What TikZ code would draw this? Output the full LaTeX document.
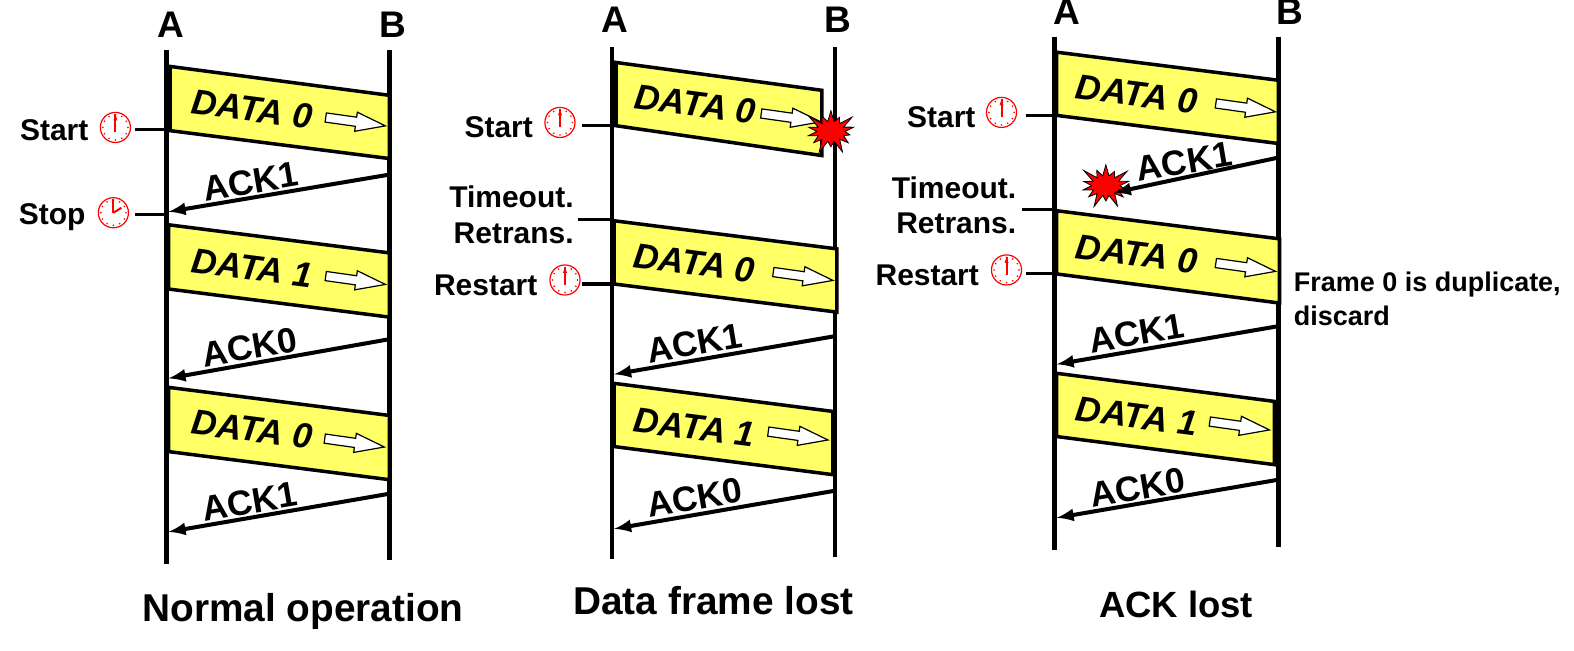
\documentclass[tikz,border=0pt]{standalone}
\usepackage{fontspec}
\setmainfont{Liberation Sans}
\usepackage{xcolor}
\usetikzlibrary{arrows,calc,positioning,shapes.arrows,shapes.symbols}
\newcommand{\myunit}{0.02cm}
\definecolor{framefill}{HTML}{FFFF66}
\tikzset{
    lifesty/.style={line width=4.5*\myunit},
    ticksty/.style={line width=3*\myunit},
    acksty/.style={line width=4*\myunit,->},
    framesty/.style={draw,fill=framefill,line width=3.5*\myunit},
    edgesty/.style={line width=5*\myunit},
    endsty/.style={font=\fontsize{21}{24}\bfseries\selectfont},
    sidesty/.style={font=\fontsize{17}{20}\bfseries\selectfont},
    datasty/.style={font=\fontsize{20}{24}\bfseries\itshape\selectfont,rotate=-7.3},
    acklsty/.style={font=\fontsize{20}{24}\bfseries\selectfont,rotate=9.6},
    titlesty/.style={font=\fontsize{22}{26}\bfseries\selectfont},
    notesty/.style={font=\fontsize{15.3}{18}\bfseries\selectfont,anchor=west,inner sep=0pt},
    hollowsty/.style={draw,fill=white,single arrow,anchor=tail,rotate=-8,inner xsep=0pt,inner ysep=0.08cm,
        line width=1.2*\myunit,minimum height=60*\myunit,
        single arrow head extend=0.1cm,single arrow tip angle=36,single arrow head indent=0pt},
    burststy/.style={draw=black,fill=red,starburst,starburst points=14,inner sep=0pt,
        starburst point height=0.3cm,minimum width=1.16cm,minimum height=1cm,
        line width=0.016cm},
    clockstart/.pic={
        \draw [red,line width=1.2*\myunit,fill=white] (0,0) circle (15);
        \foreach \tickang in {0,30,...,330}
            \fill [red] (\tickang:12.5) circle (0.9);
        \draw [red,line width=2*\myunit] (0,5) -- (0,-13);
        \fill [red] (-2,-7) -- (2,-7) -- (0,-13) -- cycle;
    },
    clockstop/.pic={
        \draw [red,line width=1.2*\myunit,fill=white] (0,0) circle (15);
        \foreach \tickang in {0,30,...,330}
            \fill [red] (\tickang:12.5) circle (0.9);
        \draw [red,line width=2*\myunit] (0,0) -- (0,-14);
        \draw [red,line width=2*\myunit] (0,0) -- (8,-5);
    },
}

\begin{document}
\begin{tikzpicture}[>=latex,x=\myunit,y=-\myunit]
\useasboundingbox (0,0) rectangle (1568.5,648.7);

% normal operation
\coordinate (Ap1t) at (166,50);
\coordinate (Ap1b) at (166,562);
\coordinate (Bp1t) at (388,50);
\coordinate (Bp1b) at (388,558);
\node (Ap1l) [endsty] at (170,25) {A};
\node (Bp1l) [endsty] at (391,25) {B};
\draw [lifesty] (Ap1t) -- (Ap1b);
\draw [lifesty] (Bp1t) -- (Bp1b);

\draw [framesty] (168,66) -- (388,95) -- (388,158) -- (168,130) -- cycle;
\draw [framesty] (168,224) -- (388,252) -- (388,316) -- (168,288) -- cycle;
\draw [framesty] (168,386) -- (388,414) -- (388,478) -- (168,450) -- cycle;
\draw [edgesty] (169,66) -- (169,130);
\node (Dp1a) [datasty] at (251.5,109) {DATA 0};
\node (Dp1b) [datasty] at (251.5,267) {DATA 1};
\node (Dp1c) [datasty] at (251.5,428) {DATA 0};
\node (Hp1a) [hollowsty] at (324,117) {};
\node (Hp1b) [hollowsty] at (324,275) {};
\node (Hp1c) [hollowsty] at (323,437) {};

\coordinate (Kp1as) at (388,174);
\coordinate (Kp1ae) at (168,211);
\coordinate (Kp1bs) at (388,338);
\coordinate (Kp1be) at (168,377);
\coordinate (Kp1cs) at (388,492);
\coordinate (Kp1ce) at (168,530);
\draw [acksty] (Kp1as) -- (Kp1ae);
\draw [acksty] (Kp1bs) -- (Kp1be);
\draw [acksty] (Kp1cs) -- (Kp1ce);
\node (Lp1a) [acklsty] at (250,181) {ACK1};
\node (Lp1b) [acklsty] at (249,346) {ACK0};
\node (Lp1c) [acklsty] at (249,500) {ACK1};

\node (Sp1a) [sidesty] at (54,130) {Start};
\node (Sp1b) [sidesty] at (52,216) {Stop};
\pic at (115,127) {clockstart};
\pic at (113,212) {clockstop};
\coordinate (Tp1a) at (135,129);
\coordinate (Tp1b) at (135,214);
\draw [ticksty] (Tp1a) -- (Tp1a -| Ap1t);
\draw [ticksty] (Tp1b) -- (Tp1b -| Ap1t);
\node (Np1) [titlesty] at (302,609) {Normal operation};

% data frame lost
\coordinate (Ap2t) at (610,47);
\coordinate (Ap2b) at (610,557);
\coordinate (Bp2t) at (832,47);
\coordinate (Bp2b) at (832,555);
\node (Ap2l) [endsty] at (613,20) {A};
\node (Bp2l) [endsty] at (835,20) {B};
\draw [lifesty] (Ap2t) -- (Ap2b);
\draw [lifesty] (Bp2t) -- (Bp2b);

\draw [framesty] (612,62) -- (819,90) -- (819,155) -- (612,125) -- cycle;
\draw [framesty] (612,220) -- (834,248) -- (834,311) -- (612,283) -- cycle;
\draw [framesty] (612,382) -- (830,410) -- (830,473) -- (612,445) -- cycle;
\draw [edgesty] (613,62) -- (613,125);
\node (Dp2a) [datasty] at (693,104) {DATA 0};
\node (Dp2b) [datasty] at (692,262) {DATA 0};
\node (Dp2c) [datasty] at (692,426) {DATA 1};
\node (Hp2a) [hollowsty] at (758,113) {};
\node (Hp2b) [hollowsty] at (770,271) {};
\node (Hp2c) [hollowsty] at (765,430) {};
\node (Xp2) [burststy] at (828,131) {};

\coordinate (Kp2as) at (832,335);
\coordinate (Kp2ae) at (612,373);
\coordinate (Kp2bs) at (832,489);
\coordinate (Kp2be) at (612,527);
\draw [acksty] (Kp2as) -- (Kp2ae);
\draw [acksty] (Kp2bs) -- (Kp2be);
\node (Lp2a) [acklsty] at (692,342) {ACK1};
\node (Lp2b) [acklsty] at (692,496) {ACK0};

\node (Sp2a) [sidesty] at (497,127) {Start};
\node (Sp2b) [sidesty,anchor=east,inner sep=0pt] at (572,196) {Timeout.};
\node (Sp2c) [sidesty,anchor=east,inner sep=0pt] at (572,233) {Retrans.};
\node (Sp2d) [sidesty] at (484,284) {Restart};
\pic at (558,122) {clockstart};
\pic at (563,279) {clockstart};
\coordinate (Tp2a) at (580,125);
\coordinate (Tp2b) at (576,219);
\coordinate (Tp2c) at (580,283);
\draw [ticksty] (Tp2a) -- (Tp2a -| Ap2t);
\draw [ticksty] (Tp2b) -- (Tp2b -| Ap2t);
\draw [ticksty] (Tp2c) -- (Tp2c -| Ap2t);
\node (Np2) [titlesty] at (711,599) {Data frame lost};

% ack lost
\coordinate (Ap3t) at (1051,37);
\coordinate (Ap3b) at (1051,548);
\coordinate (Bp3t) at (1274,37);
\coordinate (Bp3b) at (1274,545);
\node (Ap3l) [endsty] at (1063,12) {A};
\node (Bp3l) [endsty] at (1285,12) {B};
\draw [lifesty] (Ap3t) -- (Ap3b);
\draw [lifesty] (Bp3t) -- (Bp3b);

\draw [framesty] (1053,52) -- (1274,80) -- (1274,143) -- (1053,115) -- cycle;
\draw [framesty] (1053,210) -- (1275,238) -- (1275,302) -- (1053,273) -- cycle;
\draw [framesty] (1053,372) -- (1270,400) -- (1270,463) -- (1053,435) -- cycle;
\node (Dp3a) [datasty] at (1133,94) {DATA 0};
\node (Dp3b) [datasty] at (1133,253) {DATA 0};
\node (Dp3c) [datasty] at (1133,415) {DATA 1};
\node (Hp3a) [hollowsty] at (1211,103) {};
\node (Hp3b) [hollowsty] at (1211,262) {};
\node (Hp3c) [hollowsty] at (1205,420) {};
\node (Xp3) [burststy] at (1102,185) {};

\coordinate (Kp3as) at (1274,157);
\coordinate (Kp3ae) at (1110,192);
\coordinate (Kp3bs) at (1274,325);
\coordinate (Kp3be) at (1053,363);
\coordinate (Kp3cs) at (1274,478);
\coordinate (Kp3ce) at (1053,516);
\draw [acksty] (Kp3as) -- (Kp3ae);
\draw [acksty] (Kp3bs) -- (Kp3be);
\draw [acksty] (Kp3cs) -- (Kp3ce);
\node (Lp3a) [acklsty] at (1180,161) {ACK1};
\node (Lp3b) [acklsty] at (1133,332) {ACK1};
\node (Lp3c) [acklsty] at (1134,486) {ACK0};

\node (Sp3a) [sidesty] at (938,117) {Start};
\node (Sp3b) [sidesty,anchor=east,inner sep=0pt] at (1013,187) {Timeout.};
\node (Sp3c) [sidesty,anchor=east,inner sep=0pt] at (1013,223) {Retrans.};
\node (Sp3d) [sidesty] at (924,274) {Restart};
\pic at (998,112) {clockstart};
\pic at (1003,269) {clockstart};
\coordinate (Tp3a) at (1022,115);
\coordinate (Tp3b) at (1018,209);
\coordinate (Tp3c) at (1022,273);
\draw [ticksty] (Tp3a) -- (Tp3a -| Ap3t);
\draw [ticksty] (Tp3b) -- (Tp3b -| Ap3t);
\draw [ticksty] (Tp3c) -- (Tp3c -| Ap3t);
\node (Fp3a) [notesty] at (1289,284) {Frame 0 is duplicate,};
\node (Fp3b) [notesty] at (1289,315) {discard};
\node (Np3) [titlesty,font=\fontsize{20.7}{26}\bfseries\selectfont] at (1172,602) {ACK lost};

\end{tikzpicture}
\end{document}
